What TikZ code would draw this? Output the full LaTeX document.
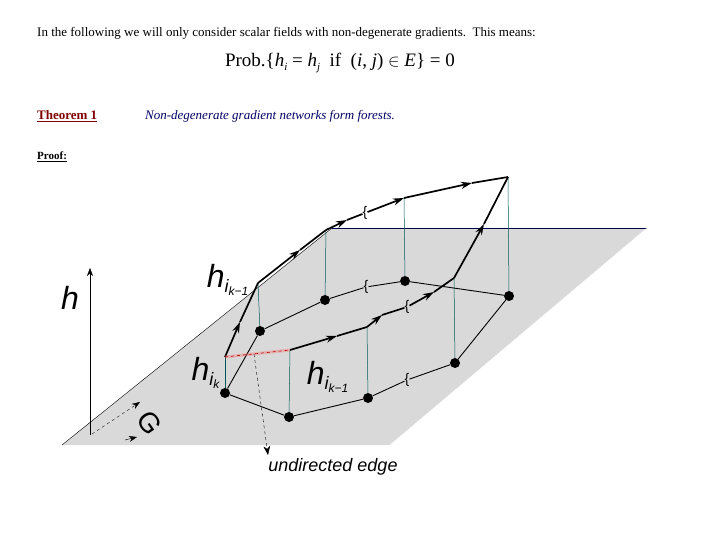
\documentclass[tikz,border=0pt]{standalone}
\usepackage{fontspec}
\setmainfont{Liberation Serif}
\setsansfont{Liberation Sans}
\newfontfamily\djv{DejaVu Serif}
\usetikzlibrary{arrows.meta}
\newcommand{\mysb}[1]{\raisebox{-4pt}{\fontsize{11}{11}\selectfont\itshape #1}}
\begin{document}
\begin{tikzpicture}[x=1pt,y=-1pt,
  dot/.style={circle,fill=black,inner sep=0pt,minimum size=10pt},
  stem/.style={draw=teal!70!black,line width=0.5pt},
  flat/.style={line width=0.9pt},
  grad/.style={line width=1.7pt,-{Stealth[length=11pt,width=7pt]}},
  lab/.style={font=\sffamily\itshape\fontsize{32}{32}\selectfont,inner sep=0pt},
  wav/.style={font=\sffamily\fontsize{14}{14}\selectfont,inner sep=0pt,fill=lightgray!60}]
\useasboundingbox (0,0) rectangle (720,540);
% text
\node[anchor=west,inner sep=0pt,font=\fontsize{13}{13}\selectfont] (t1) at (37,33) {In the following we will only consider scalar fields with non-degenerate gradients.\ \ This means:};
\node[inner sep=0pt,font=\fontsize{19}{19}\selectfont] (t2) at (340,63) {Prob.\{{\itshape h}\mysb{i} = {\itshape h}\mysb{j}\ \ if\ \ ({\itshape i}, {\itshape j}) $\in$ {\itshape E}\} = 0};
\node[anchor=west,inner sep=0pt,font=\bfseries\fontsize{13}{13}\selectfont,text=red!50!black] (t3) at (37,116) {\underline{Theorem 1}};
\node[anchor=west,inner sep=0pt,font=\itshape\fontsize{13}{13}\selectfont,text=blue!40!black] (t4) at (145,116) {Non-degenerate gradient networks form forests.};
\node[anchor=west,inner sep=0pt,font=\bfseries\fontsize{11}{11}\selectfont] (t5) at (37,157) {\underline{Proof:}};
% plane
\fill[gray!30] (62,445) -- (332,228) -- (647,228) -- (390,445) -- cycle;
\draw[line width=0.4pt] (62,445) -- (332,228);
\draw[line width=0.6pt,draw=blue!30!black] (332,228) -- (647,228);
\draw[line width=0.4pt,draw=white] (647,228) -- (390,445);
% axes
\coordinate (h0) at (90,435); \coordinate (h1) at (90,268);
\draw[-{Stealth[length=8pt]}] (h0) -- (h1);
\node[lab] (hl) at (70,298) {h};
\coordinate (g0) at (92,434); \coordinate (g1) at (140,402);
\draw[dashed,-{Stealth[length=8pt]}] (g0) -- (g1);
\coordinate (g2) at (125,440); \coordinate (g3) at (137,437);
\draw[-{Stealth[length=8pt]}] (g2) -- (g3);
\node[lab,rotate=-55,font=\sffamily\fontsize{28}{28}\selectfont] (gl) at (150,423) {G};
% dots
\node[dot] (A) at (225,393) {};
\node[dot] (B) at (289,417) {};
\node[dot] (C) at (368,398) {};
\node[dot] (D) at (455,363) {};
\node[dot] (E) at (509,296) {};
\node[dot] (F) at (405,281) {};
\node[dot] (G) at (325,300) {};
\node[dot] (H) at (260,331) {};
% lifted points
\coordinate (A1) at (225,357);
\coordinate (B1) at (290,350);
\coordinate (C1) at (367,327);
\coordinate (D1) at (454,278);
\coordinate (E1) at (508,177);
\coordinate (F1) at (404,198);
\coordinate (G1) at (326,230);
\coordinate (H1) at (258,283);
\foreach \p in {A,B,C,D,E,F,G,H} \draw[stem] (\p) -- (\p1);
% flat edges
\node[wav] (w1) at (407,380) {\{};
\node[wav] (w2) at (366,287) {\{};
\draw[flat] (A) -- (B); \draw[flat] (B) -- (C); \draw[flat] (C) -- (w1); \draw[flat] (w1) -- (D);
\draw[flat] (D) -- (E); \draw[flat] (E) -- (F); \draw[flat] (F) -- (w2); \draw[flat] (w2) -- (G);
\draw[flat] (G) -- (H); \draw[flat] (H) -- (A);
% gradient paths
\node[wav,fill=none] (w3) at (407,307) {\{};
\node[wav,fill=white] (w4) at (365,213) {\{};
\draw[grad] (A1) -- (240,322);
\draw[line width=1.7pt] (240,322) -- (H1);
\draw[grad] (H1) -- (300,250);
\draw[line width=1.7pt] (300,250) -- (G1);
\draw[grad] (G1) -- (347,220);
\draw[line width=1.7pt] (347,220) -- (w4);
\draw[grad] (w4) -- (F1);
\draw[grad] (F1) -- (472,183);
\draw[line width=1.7pt] (472,183) -- (E1);
\draw[grad] (B1) -- (337,336);
\draw[line width=1.7pt] (337,336) -- (C1);
\draw[grad] (C1) -- (382,315);
\draw[line width=1.7pt] (382,315) -- (w3);
\draw[grad] (w3) -- (434,292);
\draw[line width=1.7pt] (434,292) -- (D1);
\draw[grad] (D1) -- (484,224);
\draw[line width=1.7pt] (484,224) -- (E1);
% undirected edge
\draw[red!60,line width=3pt,opacity=0.35] (A1) -- (B1);
\draw[red!70!black,dashed,line width=0.6pt] (A1) -- (B1);
\coordinate (u0) at (254,354);
\node[inner sep=0pt,font=\sffamily\itshape\fontsize{18}{18}\selectfont] (ul) at (333,467) {undirected edge};
\draw[dashed,-{Stealth[length=9pt]}] (u0) -- (268,455);
% labels
\node[lab] (l1) at (228,280) {h\textsubscript{\fontsize{18}{18}\selectfont\itshape i\textsubscript{\fontsize{12}{12}\selectfont k−1}}};
\node[lab] (l2) at (206,373) {h\textsubscript{\fontsize{18}{18}\selectfont\itshape i\textsubscript{\fontsize{12}{12}\selectfont k}}};
\node[lab] (l3) at (328,377) {h\textsubscript{\fontsize{18}{18}\selectfont\itshape i\textsubscript{\fontsize{12}{12}\selectfont k−1}}};
\end{tikzpicture}
\end{document}
